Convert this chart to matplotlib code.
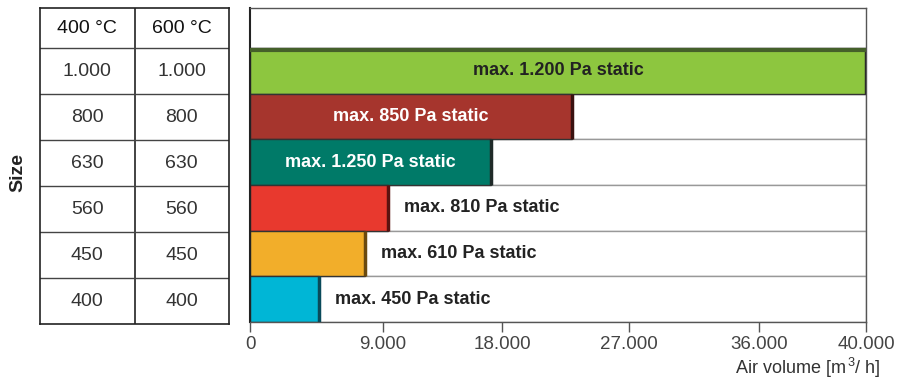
import numpy as np
import matplotlib
matplotlib.use('Agg')
import matplotlib.pyplot as plt
from matplotlib.ticker import FuncFormatter

plt.rcParams['font.family'] = ['Liberation Sans', 'DejaVu Sans']
plt.rcParams['mathtext.fontset'] = 'custom'
plt.rcParams['mathtext.rm'] = 'Liberation Sans'

# data, top row first
sizes_400 = ['1.000', '800', '630', '560', '450', '400']
sizes_600 = ['1.000', '800', '630', '560', '450', '400']
air_volume = [40000, 23000, 17200, 9400, 7800, 4700]
labels = ['max. 1.200 Pa static', 'max. 850 Pa static', 'max. 1.250 Pa static',
          'max. 810 Pa static', 'max. 610 Pa static', 'max. 450 Pa static']
header = ['400 °C', '600 °C']
x_ticks = [0, 9000, 18000, 27000, 36000, 40000]

colors = ['#8dc63f', '#a6352d', '#007a68', '#e8392e', '#f2ae2a', '#00b6d6']
edge_dark = ['#2a2a2a', '#3a1210', '#1f2a28', '#5a1210', '#6a4a10', '#0a4a5a']
label_color = ['#222222', 'white', 'white', '#222222', '#222222', '#222222']
label_inside = [True, True, True, False, False, False]

# the printed axis is not spaced evenly: where each tick sits along the axis
tick_frac = [0, 0.216, 0.409, 0.615, 0.826, 1.0]


def fwd(v):
    return np.interp(v, x_ticks, tick_frac)


def inv(f):
    return np.interp(f, tick_frac, x_ticks)


fig = plt.figure(figsize=(9.06, 3.8), dpi=100)
H = 380.0
W = 906.0
ax = fig.add_axes([250 / W, 1 - 322 / H, 616 / W, 314 / H])
tab = fig.add_axes([40 / W, 1 - 324 / H, 189 / W, 316 / H])

n = len(air_volume)
ypos = np.arange(n)[::-1]          # top row at n-1
ytop = n - 0.5 + 0.88              # room for the table header

# background tracks
ax.barh(ypos, [x_ticks[-1]] * n, height=1.0, color='white', edgecolor='#999999', lw=1.0, zorder=1)
ax.barh(ypos, air_volume, height=1.0, color=colors, edgecolor='#333333', lw=1.0, zorder=2)
for y, v, dk in zip(ypos, air_volume, edge_dark):
    ax.vlines(v, y - 0.5, y + 0.5, color=dk, lw=2.5, zorder=3)
# dark strip on top of the big bar
ax.hlines(ypos[0] + 0.47, 0, air_volume[0], color='#45602a', lw=3, zorder=3)

for y, v, lab, c, inside in zip(ypos, air_volume, labels, label_color, label_inside):
    if inside:
        xc = inv(fwd(v) / 2)
        ax.text(xc, y, lab, ha='center', va='center', color=c,
                fontsize=13, fontweight='bold', zorder=4)
    else:
        ax.annotate(lab, (v, y), xytext=(11, 0), textcoords='offset points',
                    ha='left', va='center', color=c, fontsize=13,
                    fontweight='bold', zorder=4)

ax.set_xscale('function', functions=(fwd, inv))
ax.set_xlim(0, 40000)
ax.set_ylim(-0.5, ytop)
ax.set_xticks(x_ticks)
ax.xaxis.set_major_formatter(FuncFormatter(lambda v, p: f'{int(round(v)):,}'.replace(',', '.')))
ax.tick_params(axis='x', length=7, width=1, color='#555555', labelsize=13.5,
               labelcolor='#444444', pad=3)
ax.set_yticks([])
for s in ['top', 'right', 'bottom']:
    ax.spines[s].set_color('#555555')
    ax.spines[s].set_linewidth(1.0)
ax.spines['left'].set_color('#222222')
ax.spines['left'].set_linewidth(1.5)

fig.text(881 / W, 1 - 368 / H, r'Air volume [m$^{\,3}$/ h]', ha='right', va='center',
         fontsize=13, color='#333333')

# size table
tab.set_xlim(0, 2)
tab.set_ylim(-0.5, ytop)
tab.set_xticks([])
tab.set_yticks([])
for s in tab.spines.values():
    s.set_color('#222222')
    s.set_linewidth(1.2)
tab.axvline(1, color='#222222', lw=1.2)
for k in range(n):
    tab.axhline(k + 0.5, color='#444444', lw=1.0)
for j, h in enumerate(header):
    tab.text(j + 0.5, (n - 0.5 + ytop) / 2, h, ha='center', va='center',
             fontsize=14, color='#111111')
for y, a, b in zip(ypos, sizes_400, sizes_600):
    tab.text(0.5, y, a, ha='center', va='center', fontsize=14, color='#333333')
    tab.text(1.5, y, b, ha='center', va='center', fontsize=14, color='#333333')

fig.text(18 / W, 1 - 172 / H, 'Size', rotation=90, ha='center', va='center',
         fontsize=14, fontweight='bold', color='#222222')

fig.savefig('out.png', dpi=100)
